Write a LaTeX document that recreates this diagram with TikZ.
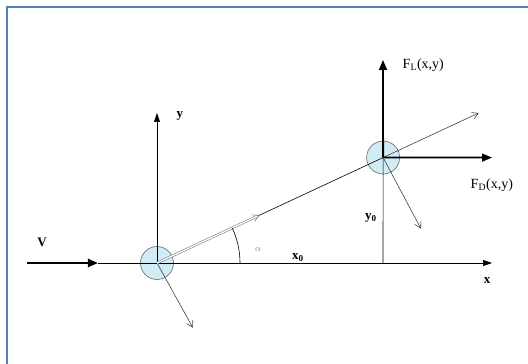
\documentclass[tikz,border=0pt]{standalone}
\usepackage{fontspec}
\setmainfont{Liberation Serif}
\usetikzlibrary{arrows.meta,calc}
\definecolor{frameblue}{RGB}{79,129,189}
\definecolor{bodyblue}{RGB}{210,236,245}

\begin{document}
\begin{tikzpicture}[x=10pt, y=10pt, >=Stealth, thick,
    body/.style={circle, draw=black!60, fill=bodyblue, minimum size=33pt, inner sep=0pt, line width=0.6pt},
    axis/.style={line width=0.6pt},
    force/.style={-{Triangle[length=10pt, width=8pt]}, line width=1.8pt},
    thinarrow/.style={-{Straight Barb[length=6pt, width=7pt]}, line width=0.6pt, black!75},
    lbl/.style={font=\fontsize{13}{15}\selectfont\bfseries}]
    \useasboundingbox (-15.7,-10.1) rectangle (37.1,26.3);

    % Frame
    \draw[line width=2pt, frameblue] (-14.95,-10.1) -- (-14.95,25.55) -- (37.1,25.55);

    % Bodies
    \node[body] (A) at (0,0) {};
    \node[body] (B) at (25:24.95) {};

    % Free ends
    \coordinate (vtail) at (-13,0);
    \coordinate (vtip) at (-5.9,0);
    \coordinate (xtip) at (33.5,0);
    \coordinate (ytip) at (0,15);
    \coordinate (ltip) at (25:35.5);
    \coordinate (dtip) at (25:11.3);
    \coordinate (afoot) at (-61:7.4);
    \coordinate (bfoot) at ($(B)+(-62:8.05)$);
    \coordinate (flift) at (22.6,20.3);
    \coordinate (fdrag) at (33.5,10.54);
    \coordinate (ybase) at (22.6,0);

    % Axes
    \draw[axis, -{Triangle[length=9pt, width=6pt]}] (vtip) -- (xtip);
    \draw[axis, -{Triangle[length=9pt, width=6pt]}] (A.center) -- (ytip);
    \draw[axis] (ybase) -- (B.center);
    \draw[axis] (A.center) -- (B.center);
    \draw[thinarrow] (B.center) -- (ltip);

    % Velocity
    \draw[-{Triangle[length=10pt, width=8pt]}, line width=2.4pt] (vtail) -- (vtip);

    % Forces
    \draw[force] (B.center) -- (flift);
    \draw[force] (B.center) -- (fdrag);
    \draw[thinarrow] (B.center) -- (bfoot);
    \draw[thinarrow] (A.center) -- (afoot);
    \draw[thinarrow, double, double distance=1.3pt, line width=0.6pt, gray] (A.center) -- (dtip);

    % Angle
    \draw[axis] (8.3,0) arc (0:25:8.3);

    % Labels
    \node[lbl] (lv) at (-11.5,2.1) {V};
    \node[lbl] (ly) at (2.3,14.7) {y};
    \node[lbl] (lx) at (33,-1.8) {x};
    \node[lbl] (lxo) at (14.1,0.5) {x\textsubscript{0}};
    \node[lbl] (lyo) at (21.4,4.5) {y\textsubscript{0}};
    \node[gray, font=\small] (la) at (10.1,1.3) {$\alpha$};
    \node[anchor=west, font=\fontsize{14}{16}\selectfont] (lfl) at (24.2,19.8) {F\textsubscript{L}(x,y)};
    \node[anchor=west, font=\fontsize{14}{16}\selectfont] (lfd) at (31,7.8) {F\textsubscript{D}(x,y)};
\end{tikzpicture}
\end{document}
